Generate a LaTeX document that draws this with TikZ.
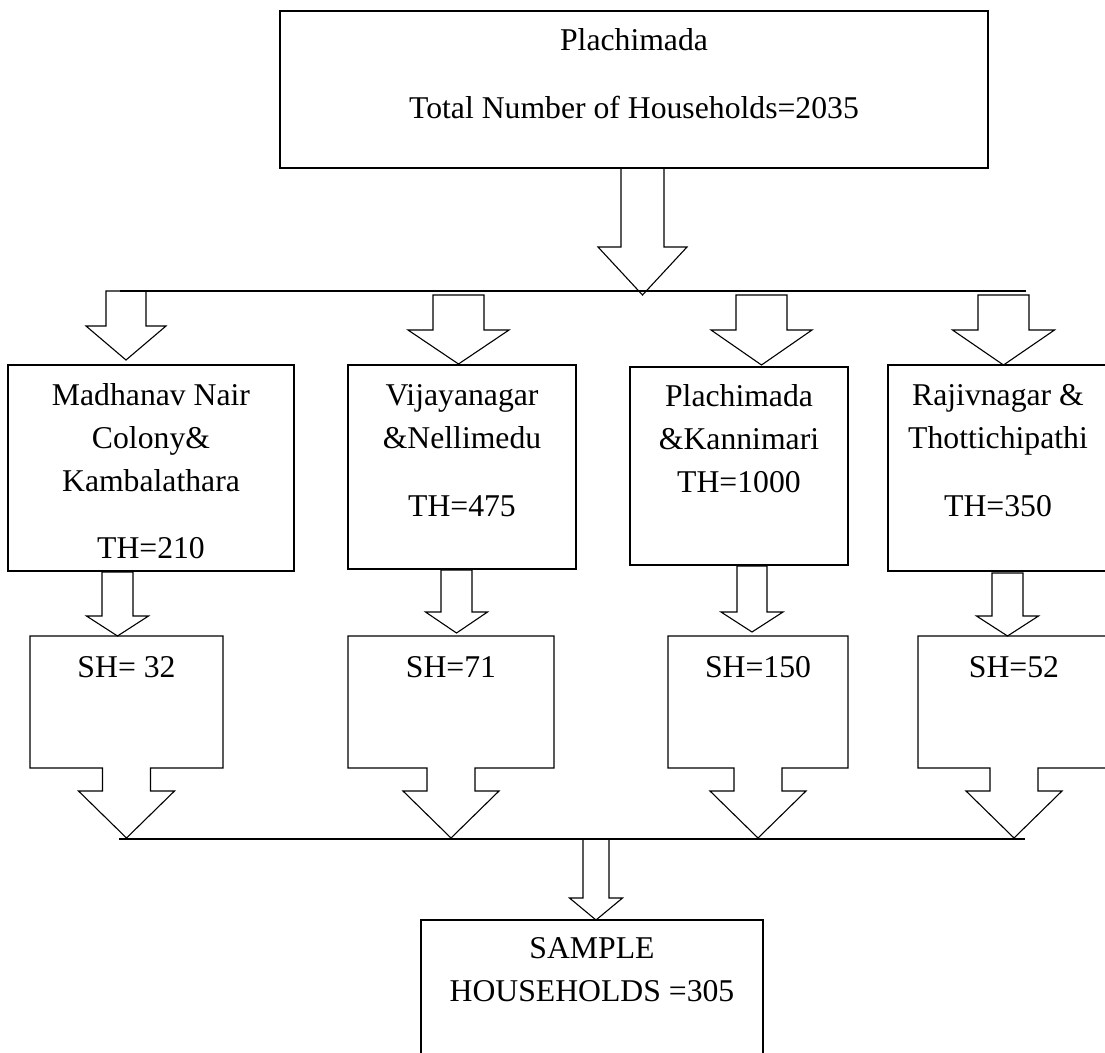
\documentclass[tikz,border=0pt]{standalone}
\usepackage{fontspec}
\setmainfont{Liberation Serif}
\usetikzlibrary{positioning}
% hollow block arrow pointing down: x, top y, head y, tip y, half shaft, half head
\newcommand{\blockdown}[6]{%
  \draw[blk] (#1-#5,#2) -- (#1-#5,#3) -- (#1-#6,#3) -- (#1,#4) -- (#1+#6,#3) -- (#1+#5,#3) -- (#1+#5,#2) -- cycle}
\newcommand{\stack}[1]{\begin{tabular}[t]{@{}c@{}}#1\end{tabular}}

\begin{document}
\begin{tikzpicture}[x=1pt,y=1pt,
  box/.style={draw=black,line width=1.1pt,inner sep=0pt,outer sep=0pt},
  txt/.style={anchor=base,inner sep=0pt,font=\fontsize{31.7}{43}\selectfont},
  blk/.style={draw=black,line width=1.1pt,line join=miter},
  bus/.style={draw=black,line width=2pt}
]
\useasboundingbox (0,0) rectangle (1105,-1052);
\clip (0,0) rectangle (1105,-1052);
% top box
\node[box,minimum width=708,minimum height=157] (top) at (634,-89.5) {};
\node[txt] at ([yshift=-39pt]top.north) {\stack{Plachimada\\[25pt]Total Number of Households=2035}};
% total households per area
\node[box,minimum width=286,minimum height=206] (th1) at (151,-468) {};
\node[box,minimum width=228,minimum height=204] (th2) at (462,-467) {};
\node[box,minimum width=218,minimum height=198] (th3) at (739,-466) {};
\node[box,minimum width=220,minimum height=206] (th4) at (998,-468) {};
\node[txt] at ([yshift=-40pt]th1.north) {\stack{Madhanav Nair\\Colony\&\\Kambalathara\\[24pt]TH=210}};
\node[txt] at ([yshift=-40pt]th2.north) {\stack{Vijayanagar\\\&Nellimedu\\[25pt]TH=475}};
\node[txt] at ([yshift=-39pt]th3.north) {\stack{Plachimada\\\&Kannimari\\TH=1000}};
\node[txt] at ([yshift=-40pt]th4.north) {\stack{Rajivnagar \&\\Thottichipathi\\[25pt]TH=350}};
% sample households per area
\foreach \n/\x/\w/\t in {sh1/126.5/193/SH= 32, sh2/451/206/SH=71, sh3/758/180/SH=150, sh4/1014/192/SH=52}{
  \node[box,draw=none,minimum width=\w,minimum height=132] (\n) at (\x,-702) {};
  \node[txt] at ([yshift=-41pt]\n.north) {\t};
  \draw[blk] (\n.north west) -- (\n.north east) -- (\n.south east) -- ([xshift=24pt]\n.south)
    -- ++(0,-23) -- ++(24,0) -- ++(-48,-47) -- ++(-48,47) -- ++(24,0) -- ++(0,23) -- (\n.south west) -- cycle;
}
% total sample
\node[box,minimum width=342,minimum height=170] (sample) at (592,-1005) {};
\node[txt] at ([yshift=-38pt]sample.north) {\stack{SAMPLE\\HOUSEHOLDS =305}};
% bus lines
\coordinate (busTL) at (120,-291);
\coordinate (busTR) at (1026,-291);
\coordinate (busBL) at (119,-839);
\coordinate (busBR) at (1025,-839);
\draw[bus] (busTL) -- (busTR);
\draw[bus] (busBL) -- (busBR);
% block arrows
\blockdown{642.5}{-168}{-247}{-295}{21.5}{44.5};
\foreach \x/\t/\h/\p/\s/\w in {126/-291/-326/-360/20/40, 458.5/-295/-330/-364/25.5/50.5,
  761.5/-295/-330/-365/25.5/50.5, 1003.5/-295/-330/-365/25.5/51}{
  \blockdown{\x}{\t}{\h}{\p}{\s}{\w};
}
\foreach \x/\t/\h/\p/\s/\w in {117.5/-572/-616/-636/15.5/31, 456.5/-570/-612/-633/15.5/31,
  752/-566/-612/-632/15/31, 1007.5/-573/-616/-636/15.5/31}{
  \blockdown{\x}{\t}{\h}{\p}{\s}{\w};
}
\blockdown{596}{-839}{-898}{-920}{13}{26.5};
\end{tikzpicture}
\end{document}
